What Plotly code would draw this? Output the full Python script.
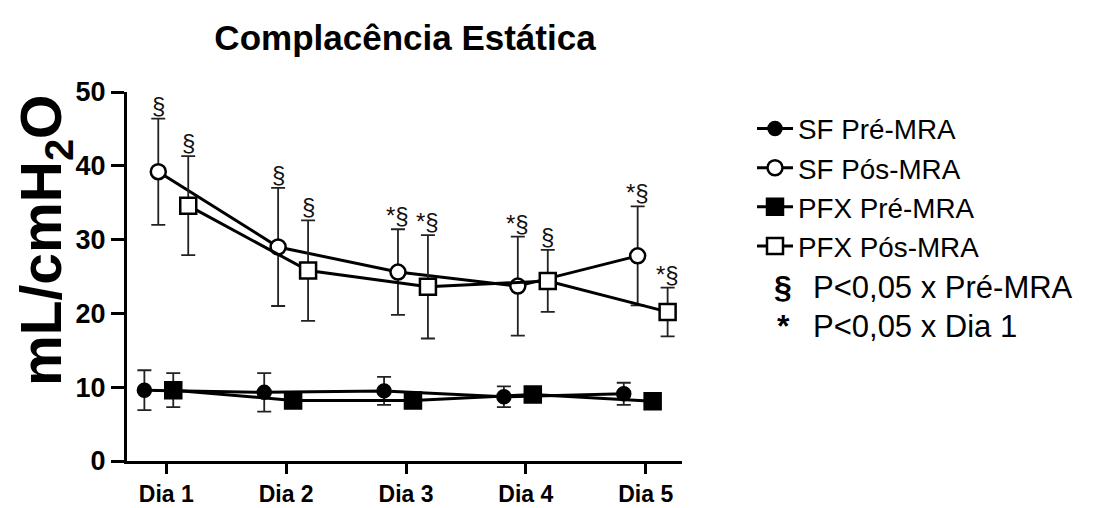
import plotly.graph_objects as go

# ---- data ----
days = ["Dia 1", "Dia 2", "Dia 3", "Dia 4", "Dia 5"]

sf_pre = [9.6, 9.3, 9.5, 8.7, 9.1]
sf_pre_sd = [2.7, 2.6, 1.9, 1.4, 1.5]

sf_pos = [39.2, 29.0, 25.6, 23.7, 27.8]
sf_pos_sd = [7.2, 8.0, 5.8, 6.7, 6.7]

pfx_pre = [9.6, 8.2, 8.2, 9.0, 8.1]
pfx_pre_sd = [2.3, 0.5, 0.5, 0.5, 0.5]

pfx_pos = [34.6, 25.8, 23.6, 24.4, 20.2]
pfx_pos_sd = [6.7, 6.8, 7.0, 4.2, 3.3]

sf_pos_sig = ["§", "§", "*§", "*§", "*§"]
pfx_pos_sig = ["§", "§", "*§", "§", "*§"]

y_ticks = [0, 10, 20, 30, 40, 50]

# ---- style ----
FONT = "Liberation Sans, Arial, sans-serif"
pos = list(range(1, len(days) + 1))

series = [
    dict(name="SF Pré-MRA", y=sf_pre, sd=sf_pre_sd, off=-0.183, symbol="circle", fill="black", size=13),
    dict(name="SF Pós-MRA", y=sf_pos, sd=sf_pos_sd, off=-0.067, symbol="circle", fill="white", size=15),
    dict(name="PFX Pré-MRA", y=pfx_pre, sd=pfx_pre_sd, off=0.058, symbol="square", fill="black", size=16),
    dict(name="PFX Pós-MRA", y=pfx_pos, sd=pfx_pos_sd, off=0.183, symbol="square", fill="white", size=16),
]

fig = go.Figure()
for i, s in enumerate(series):
    xs = [p + s["off"] for p in pos]
    fig.add_trace(go.Scatter(
        x=xs, y=s["y"], name=s["name"], mode="lines+markers",
        legendgroup=f"g{i}",
        line=dict(color="black", width=3),
        marker=dict(symbol=s["symbol"], size=s["size"], color=s["fill"],
                    line=dict(color="black", width=2.5)),
        error_y=dict(type="data", array=s["sd"], visible=True,
                     color="#222222", thickness=1.8, width=7),
    ))

L, R, T, B = 127, 1099 - 682, 92, 508 - 461
W, H = 1099 - L - R, 508 - T - B


def px_x(px):
    return (px - L) / W


def px_y(py):
    return (508 - B - py) / H


annotations = []
for s, sig in ((series[1], sf_pos_sig), (series[3], pfx_pos_sig)):
    for p, v, sd, t in zip(pos, s["y"], s["sd"], sig):
        annotations.append(dict(
            x=p + s["off"], y=v + sd, xref="x", yref="y", text=t,
            showarrow=False, yanchor="bottom", xanchor="center", yshift=-2,
            font=dict(family=FONT, size=24, color="#111111"),
        ))

# y-axis title as rotated annotation
annotations.append(dict(
    x=px_x(45), y=px_y(241), xref="paper", yref="paper", text="<b>mL/cmH<sub>2</sub>O</b>",
    showarrow=False, textangle=-90, xanchor="center", yanchor="middle",
    font=dict(family=FONT, size=57, color="black"),
))

# extra legend rows
for py, sym, txt in ((287, "<b>§</b>", "P<0,05 x Pré-MRA"), (326, "<b>*</b>", "P<0,05 x Dia 1")):
    annotations.append(dict(x=px_x(783), y=px_y(py), xref="paper", yref="paper", text=sym,
                            showarrow=False, xanchor="center", yanchor="middle",
                            font=dict(family=FONT, size=32, color="black")))
    annotations.append(dict(x=px_x(811), y=px_y(py), xref="paper", yref="paper", text=txt,
                            showarrow=False, xanchor="left", yanchor="middle",
                            font=dict(family=FONT, size=31, color="black")))

fig.update_layout(
    width=1099, height=508,
    margin=dict(l=L, r=R, t=T, b=B, autoexpand=False),
    paper_bgcolor="white", plot_bgcolor="white",
    title=dict(text="<b>Complacência Estática</b>", x=405 / 1099, xanchor="center",
               y=1 - 38 / 508, yanchor="middle", xref="container", yref="container",
               font=dict(family=FONT, size=35, color="black")),
    showlegend=True,
    legend=dict(x=px_x(752), y=px_y(104), xanchor="left", yanchor="top",
                font=dict(family=FONT, size=27.8, color="black"),
                itemwidth=36,
                tracegroupgap=0, bgcolor="rgba(0,0,0,0)", borderwidth=0),
    annotations=annotations,
    xaxis=dict(range=[0.672, 5.303], tickvals=pos, ticktext=days, automargin=False,
               showline=True, linewidth=3, linecolor="black", mirror=False,
               ticks="outside", ticklen=10, tickwidth=3, tickcolor="black",
               showgrid=False, zeroline=False,
               tickfont=dict(family=FONT, size=23, color="black", weight="bold")),
    yaxis=dict(range=[0, 50], tickvals=y_ticks, automargin=False,
               showline=True, linewidth=3, linecolor="black",
               ticks="outside", ticklen=13, tickwidth=3, tickcolor="black",
               showgrid=False, zeroline=False,
               tickfont=dict(family=FONT, size=27, color="black", weight="bold")),
)

fig.write_html("out.html")
